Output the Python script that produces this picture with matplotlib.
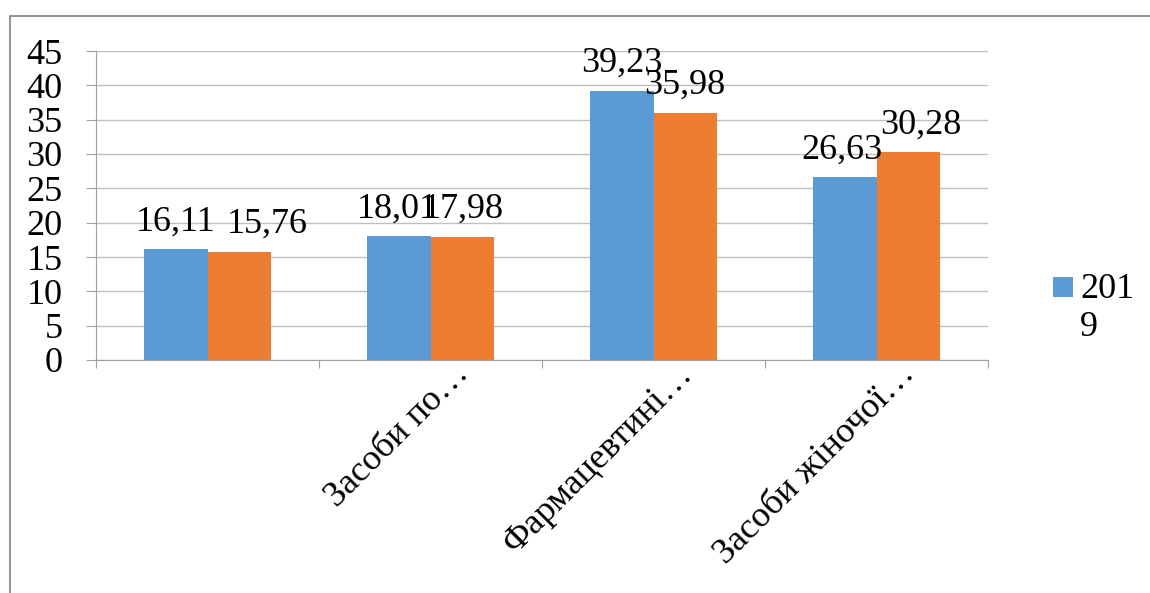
import matplotlib
matplotlib.use("Agg")
import matplotlib.pyplot as plt
from matplotlib.patches import Rectangle
from matplotlib.legend_handler import HandlerPatch
import numpy as np

categories = ["", "Засоби по…", "Фармацевтині…", "Засоби жіночої…"]
series_2019 = [16.11, 18.01, 39.23, 26.63]
series_2020 = [15.76, 17.98, 35.98, 30.28]
labels_2019 = ["16,11", "18,01", "39,23", "26,63"]
labels_2020 = ["15,76", "17,98", "35,98", "30,28"]
legend_label = "201\n9"
yticks = [0, 5, 10, 15, 20, 25, 30, 35, 40, 45]

# label placement tweaks (points), Excel nudged some overlapping labels
dx_2019 = [0, -1, 0, -2]
dx_2020 = [20, 1, 0, 9]

plt.rcParams['font.family'] = ['Liberation Serif', 'DejaVu Serif']

fig = plt.figure(figsize=(11.5, 5.93), dpi=100)
fig.patches.append(Rectangle((10/1150, -0.1), 1.2, 1 - 16/593 + 0.1,
                             transform=fig.transFigure, fill=False,
                             edgecolor='#7F7F7F', linewidth=1.2))

ax = fig.add_axes([96/1150, 1 - 360/593, (988-96)/1150, (360-51)/593])
x = np.arange(len(categories))
w = 0.284
b1 = ax.bar(x - w/2, series_2019, w, color='#5B9BD5', zorder=3)
b2 = ax.bar(x + w/2, series_2020, w, color='#ED7D31', zorder=3)

fs = 26
for xi, v, t, d in zip(x - w/2, series_2019, labels_2019, dx_2019):
    ax.annotate(t, (xi, v), xytext=(d, 13.5), textcoords='offset points',
                ha='center', va='baseline', fontsize=fs, zorder=4)
for xi, v, t, d in zip(x + w/2, series_2020, labels_2020, dx_2020):
    ax.annotate(t, (xi, v), xytext=(d, 13.5), textcoords='offset points',
                ha='center', va='baseline', fontsize=fs, zorder=4)

ax.set_xlim(-0.5, len(categories) - 0.5)
ax.set_ylim(0, 45)
ax.set_yticks(yticks)
ax.set_yticklabels([str(t) for t in yticks], fontsize=fs)
ax.yaxis.grid(True, color='#BFBFBF', linewidth=1, zorder=0)
ax.set_axisbelow(True)

ax.set_xticks(np.arange(-0.5, len(categories)))
ax.set_xticklabels([])
ax.tick_params(axis='x', length=6, color='#A0A0A0', direction='out')
ax.tick_params(axis='y', length=7, color='#A0A0A0', direction='out', pad=17)
for i, c in enumerate(categories):
    ax.annotate(c, (i, 0), xytext=(16, 2), textcoords='offset points',
                rotation=45, rotation_mode='anchor',
                ha='right', va='top', fontsize=fs)

for s in ['top', 'right']:
    ax.spines[s].set_visible(False)
for s in ['left', 'bottom']:
    ax.spines[s].set_color('#A0A0A0')


def square_patch(legend, orig_handle, xdescent, ydescent, width, height, fontsize):
    side = 14
    return Rectangle((-xdescent + width - side, -ydescent + fontsize * 0.6 + 1), side, side)


handle = b1.patches[0]
leg = fig.legend(handles=[handle], labels=[legend_label], loc='upper left',
                 bbox_to_anchor=(1051/1150, 1 - 273/593), frameon=False,
                 fontsize=fs, handlelength=0.6, handleheight=0.6,
                 handletextpad=0.2, borderpad=0, borderaxespad=0,
                 handler_map={type(handle): HandlerPatch(patch_func=square_patch)})

fig.savefig('out.png', dpi=100)
